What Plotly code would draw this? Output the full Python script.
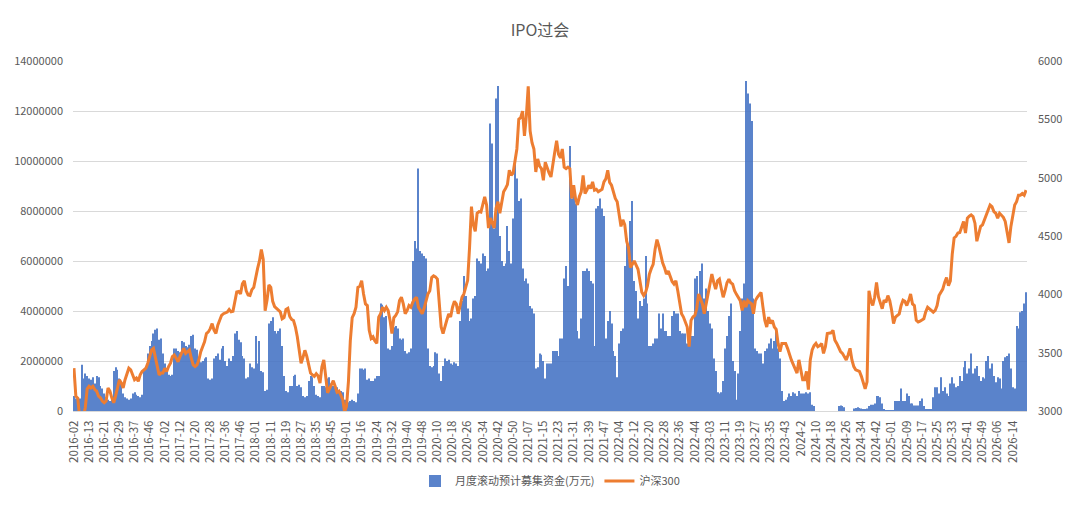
import plotly.graph_objects as go

tick_labels = [
    "2016-02", "2016-13", "2016-21", "2016-29", "2016-37", "2016-46",
    "2017-02", "2017-12", "2017-20", "2017-28", "2017-36", "2017-46",
    "2018-01", "2018-11", "2018-19", "2018-27", "2018-35", "2018-45",
    "2019-01", "2019-16", "2019-24", "2019-32", "2019-40", "2019-48",
    "2020-10", "2020-18", "2020-26", "2020-34", "2020-42", "2020-50",
    "2021-07", "2021-15", "2021-23", "2021-31", "2021-39", "2021-47",
    "2022-04", "2022-12", "2022-20", "2022-28", "2022-36", "2022-44",
    "2023-03", "2023-11", "2023-19", "2023-27", "2023-35", "2023-43",
    "2024-2", "2024-10", "2024-18", "2024-26", "2024-34", "2024-42",
    "2025-01", "2025-09", "2025-17", "2025-25", "2025-33", "2025-41",
    "2025-49", "2026-06", "2026-14",
]

# 月度滚动预计募集资金, in millions of 万元 (one row per 8 weekly categories)
ipo_funds_m = [
    0.6, 0.5, 0.4, 0.5, 1.85, 1.3, 1.5, 1.4,
    1.3, 1.25, 1.35, 1.1, 1.4, 1.35, 1.0, 0.9,
    0.7, 0.55, 0.45, 0.4, 0.45, 1.6, 1.75, 1.65,
    1.3, 1.15, 0.7, 0.55, 0.5, 0.45, 0.5, 0.7,
    0.75, 0.65, 0.6, 0.55, 0.65, 1.6, 1.7, 2.3,
    2.6, 2.8, 3.1, 3.25, 3.3, 2.85, 2.9, 2.3,
    1.9, 1.6, 1.45, 1.4, 1.45, 2.5, 2.5, 2.4,
    2.35, 2.8, 2.75, 2.6, 2.55, 2.65, 3.0, 3.05,
    2.5, 2.45, 2.0, 1.95, 2.0, 2.1, 2.15, 1.3,
    1.25, 1.3, 2.1, 2.2, 2.3, 2.05, 2.5, 2.6,
    2.0, 1.8, 2.1, 2.0, 2.2, 3.1, 3.2, 2.85,
    2.75, 2.2, 2.1, 1.3, 1.35, 1.9, 1.75, 1.7,
    3.0, 1.9, 2.8, 1.6, 1.55, 0.8, 0.85, 3.5,
    3.6, 3.75, 3.2, 3.1, 3.2, 3.3, 2.6, 1.4,
    0.8, 0.75, 1.0, 1.0, 1.4, 1.45, 1.0, 1.05,
    0.95, 0.6, 0.55, 0.6, 1.2, 1.4, 1.35, 1.0,
    0.65, 0.6, 0.55, 1.0, 1.0, 0.95, 1.3, 1.35,
    1.1, 1.0, 1.0, 0.95, 0.8, 0.8, 0.75, 0.45,
    0.4, 0.35, 0.4, 0.45, 0.4, 0.35, 0.7, 1.7,
    1.7, 1.65, 1.7, 1.25, 1.3, 1.2, 1.2, 1.3,
    1.4, 1.4, 4.3, 4.25, 3.75, 3.8, 2.5, 2.45,
    2.6, 3.35, 3.4, 3.3, 2.9, 2.85, 2.9, 2.4,
    2.3, 2.35, 2.5, 6.0, 6.8, 6.5, 9.7, 6.4,
    6.3, 6.2, 6.1, 2.5, 1.8, 1.75, 1.8, 2.35,
    2.3, 1.5, 1.2, 1.8, 2.1, 2.0, 2.05, 1.9,
    1.85, 1.95, 1.9, 1.8, 3.6, 4.4, 5.4, 4.6,
    4.1, 3.6, 3.7, 4.5, 4.6, 6.1, 6.0, 5.9,
    6.3, 6.2, 5.6, 5.7, 11.5, 10.7, 7.3, 12.5,
    13.0, 7.0, 6.0, 5.8, 5.9, 7.4, 6.4, 5.9,
    7.7, 10.1, 9.3, 8.4, 8.5, 5.7, 5.2, 5.3,
    5.1, 4.2, 4.1, 3.9, 1.7, 1.75, 2.3, 2.25,
    2.0, 1.3, 1.9, 1.9, 1.9, 2.4, 2.4, 2.4,
    2.2, 2.9, 2.9, 5.3, 5.8, 5.0, 10.6, 8.5,
    8.6, 8.3, 3.2, 2.9, 3.7, 5.6, 5.6, 5.7,
    5.6, 5.2, 5.1, 2.6, 8.1, 8.2, 8.5, 8.1,
    7.8, 2.9, 3.6, 4.0, 3.5, 2.4, 2.2, 1.35,
    2.7, 3.2, 3.3, 5.8, 6.9, 6.1, 7.6, 8.4,
    5.2, 4.8, 3.7, 4.4, 4.2, 4.5, 6.2, 4.3,
    2.6, 2.6, 2.7, 2.9, 2.9, 3.9, 3.3, 3.9,
    3.2, 3.2, 3.0, 3.0, 3.8, 4.0, 3.9, 3.9,
    3.2, 3.1, 3.1, 3.1, 2.7, 2.9, 3.0, 3.0,
    5.3, 5.4, 4.5, 5.6, 5.9, 4.5, 4.9, 4.0,
    3.5, 3.3, 2.1, 1.6, 0.75, 0.7, 0.75, 1.2,
    2.5, 3.0, 3.8, 4.3, 2.0, 1.6, 0.45, 1.5,
    3.2, 4.5, 5.1, 13.2, 12.7, 12.3, 11.6, 4.5,
    2.5, 2.4, 2.3, 2.3, 1.9, 2.4, 2.5, 2.7,
    2.9, 2.5, 2.8, 3.2, 2.5, 2.1, 0.8, 0.4,
    0.45, 0.55, 0.7, 0.6, 0.75, 0.7, 0.6, 0.8,
    0.7, 0.7, 0.7, 0.75, 0.7, 0.75, 0.25, 0.2,
    0, 0, 0, 0, 0, 0, 0, 0,
    0, 0, 0, 0, 0.2, 0.22, 0.2, 0.15,
    0, 0, 0, 0, 0.1, 0.12, 0.15, 0.12,
    0.1, 0.05, 0.05, 0.1, 0.2, 0.25, 0.25, 0.3,
    0.6, 0.6, 0.55, 0.3, 0.05, 0.03, 0.03, 0.03,
    0.03, 0.03, 0.4, 0.4, 0.4, 0.9, 0.4, 0.4,
    0.7, 0.6, 0.3, 0.3, 0.22, 0.22, 0.22, 0.4,
    0.5, 0.2, 0.05, 0.05, 0.05, 0.05, 0.55, 0.95,
    0.95, 0.7, 1.35, 0.8, 0.95, 0.7, 0.6, 1.1,
    1.35, 1.1, 0.95, 1.0, 1.4, 1.2, 1.75, 2.0,
    1.5, 1.7, 2.3, 1.5, 1.7, 1.8, 1.4, 1.2,
    1.35, 1.3, 2.0, 2.2, 1.7, 1.9, 1.4, 1.15,
    1.35, 1.3, 0.9, 2.0, 2.15, 2.2, 2.3, 1.7,
    0.95, 0.9, 3.4, 3.3, 3.95, 4.0, 4.3, 4.75,
]

# 沪深300 weekly close
hs300 = [
    3367, 3127, 3110, 2950, 2900, 2950, 3030, 3190,
    3212, 3198, 3212, 3184, 3170, 3127, 3113, 3085,
    3071, 3085, 3198, 3170, 3113, 3071, 3127, 3198,
    3268, 3240, 3198, 3268, 3325, 3367, 3353, 3310,
    3268, 3282, 3254, 3310, 3339, 3353, 3367, 3409,
    3466, 3523, 3537, 3466, 3367, 3310, 3325, 3325,
    3367, 3339, 3381, 3409, 3466, 3480, 3452, 3423,
    3466, 3509, 3537, 3494, 3509, 3523, 3452, 3395,
    3381, 3395, 3438, 3509, 3551, 3593, 3664, 3678,
    3706, 3749, 3692, 3664, 3735, 3777, 3820, 3834,
    3840, 3848, 3870, 3850, 3855, 3950, 4020, 4025,
    4003, 4090, 4116, 4030, 3995, 3990, 4040, 4060,
    4160, 4220, 4286, 4384, 4300, 3860, 3950, 4080,
    4060, 3940, 3895, 3880, 3870, 3850, 3790, 3800,
    3870, 3880, 3810, 3785, 3775, 3720, 3636, 3500,
    3410, 3460, 3520, 3470, 3380, 3325, 3310, 3297,
    3320, 3300, 3240, 3380, 3438, 3290, 3155, 3190,
    3230, 3260, 3212, 3160, 3170, 3140, 3099, 2990,
    3040, 3250, 3600, 3800, 3834, 3890, 4060, 4070,
    4116, 4003, 3918, 3904, 3692, 3622, 3636, 3600,
    3579, 3805, 3834, 3890, 3862, 3890, 3862, 3777,
    3664, 3800, 3819, 3850, 3946, 3975, 3918, 3833,
    3860, 3904, 3890, 3932, 3960, 3975, 3890, 3862,
    3833, 3880, 3950, 4003, 4031, 4144, 4158, 4150,
    4130, 3946, 3720, 3664, 3735, 3780, 3833, 3805,
    3890, 3940, 3918, 3833, 3900, 3975, 4003, 4060,
    4120, 4400, 4752, 4596, 4540, 4695, 4709, 4705,
    4780, 4836, 4766, 4568, 4653, 4600, 4568, 4738,
    4794, 4695, 4794, 4879, 4907, 4940, 5063, 5020,
    5040, 5133, 5246, 5500, 5514, 5570, 5359, 5528,
    5782, 5400, 5300, 5246, 5049, 5161, 5100, 5077,
    4978, 5133, 5077, 5040, 5006, 5133, 5218, 5316,
    5200, 5170, 5246, 5090, 5077, 5090, 5077, 4822,
    4935, 4822, 4766, 4836, 4879, 5020, 4864, 4893,
    4935, 4907, 4964, 4893, 4900, 4879, 4893, 4900,
    4964, 4990, 5063, 4960, 4935, 4879, 4822, 4794,
    4700, 4582, 4638, 4596, 4455, 4399, 4229, 4257,
    4286, 4250, 4215, 4116, 4017, 3989, 4017, 4074,
    4173, 4220, 4257, 4384, 4469, 4413, 4340, 4271,
    4229, 4173, 4201, 4144, 4110, 4088, 4116, 4031,
    3918, 3833, 3805, 3760, 3720, 3551, 3777, 3805,
    3819, 3876, 4003, 3960, 3918, 3833, 3918, 4000,
    4088, 4173, 4102, 4045, 4116, 4130, 4050, 3975,
    4031, 4100, 4130, 4100, 4088, 4031, 4000, 3975,
    3946, 3862, 3946, 3890, 3946, 3930, 3918, 3833,
    3946, 3975, 4000, 4017, 3890, 3777, 3720, 3805,
    3749, 3777, 3720, 3700, 3579, 3509, 3579, 3580,
    3579, 3537, 3480, 3438, 3400, 3353, 3325, 3438,
    3339, 3268, 3268, 3339, 3183, 3438, 3523, 3560,
    3579, 3551, 3560, 3579, 3494, 3551, 3664, 3664,
    3670, 3692, 3607, 3579, 3537, 3510, 3494, 3466,
    3438, 3480, 3537, 3438, 3381, 3353, 3345, 3339,
    3297, 3250, 3190, 3250, 4031, 3946, 3904, 3975,
    4102, 3980, 3932, 3876, 3950, 3932, 3989, 3946,
    3862, 3749, 3805, 3820, 3833, 3904, 3950, 3940,
    3904, 3946, 4003, 3918, 3904, 3777, 3763, 3770,
    3777, 3791, 3850, 3890, 3876, 3862, 3847, 3862,
    3904, 3989, 4020, 4045, 4102, 4144, 4074, 4116,
    4342, 4483, 4497, 4526, 4530, 4582, 4625, 4526,
    4653, 4670, 4681, 4667, 4610, 4455, 4520, 4582,
    4596, 4638, 4667, 4720, 4766, 4752, 4709, 4695,
    4653, 4695, 4681, 4660, 4625, 4526, 4441, 4582,
    4695, 4766, 4794, 4850, 4850, 4864, 4850, 4893,
]

ipo_funds = [round(v * 1_000_000) for v in ipo_funds_m]
positions = list(range(len(hs300)))
tick_positions = positions[::8][:len(tick_labels)]

FONT = "Noto Sans CJK SC, Noto Sans, sans-serif"
GREY = "#595959"

fig = go.Figure()
fig.add_trace(go.Bar(
    x=positions, y=ipo_funds, name="月度滚动预计募集资金(万元)",
    marker=dict(color="#4472C4", line=dict(width=0)), opacity=0.88, yaxis="y",
))
fig.add_trace(go.Scatter(
    x=positions, y=hs300, name="沪深300", mode="lines",
    line=dict(color="#ED7D31", width=3), yaxis="y2",
))

fig.update_layout(
    width=1080, height=508,
    margin=dict(l=73, r=53, t=61, b=94),
    paper_bgcolor="white", plot_bgcolor="white",
    font=dict(family=FONT, size=11, color=GREY),
    title=dict(text="IPO过会", x=0.5, xanchor="center", y=1 - 30 / 508,
               yanchor="middle", font=dict(family=FONT, size=16, color=GREY)),
    bargap=0.45,
    xaxis=dict(range=[-0.5, len(positions) - 0.5], tickmode="array",
               tickvals=tick_positions, ticktext=tick_labels, tickangle=-90,
               showgrid=False, zeroline=False, showline=True,
               linecolor="#D9D9D9", ticks="", ticklabelstandoff=4,
               automargin=False, tickfont=dict(size=11.5, color=GREY)),
    yaxis=dict(range=[0, 14000000], dtick=2000000, tickformat="d",
               showgrid=True, gridcolor="#D9D9D9", gridwidth=1,
               zeroline=False, showline=False, ticks="", ticklabelstandoff=9,
               automargin=False, tickfont=dict(size=11, color=GREY)),
    yaxis2=dict(range=[3000, 6000], dtick=500, overlaying="y", side="right",
                showgrid=False, zeroline=False, showline=False, ticks="",
                ticklabelstandoff=10, automargin=False,
                tickfont=dict(size=11, color=GREY)),
    legend=dict(orientation="h", x=0.5, xanchor="center", y=-0.2,
                yanchor="middle", font=dict(size=11, color=GREY)),
    showlegend=True,
)

fig.write_html("out.html")
